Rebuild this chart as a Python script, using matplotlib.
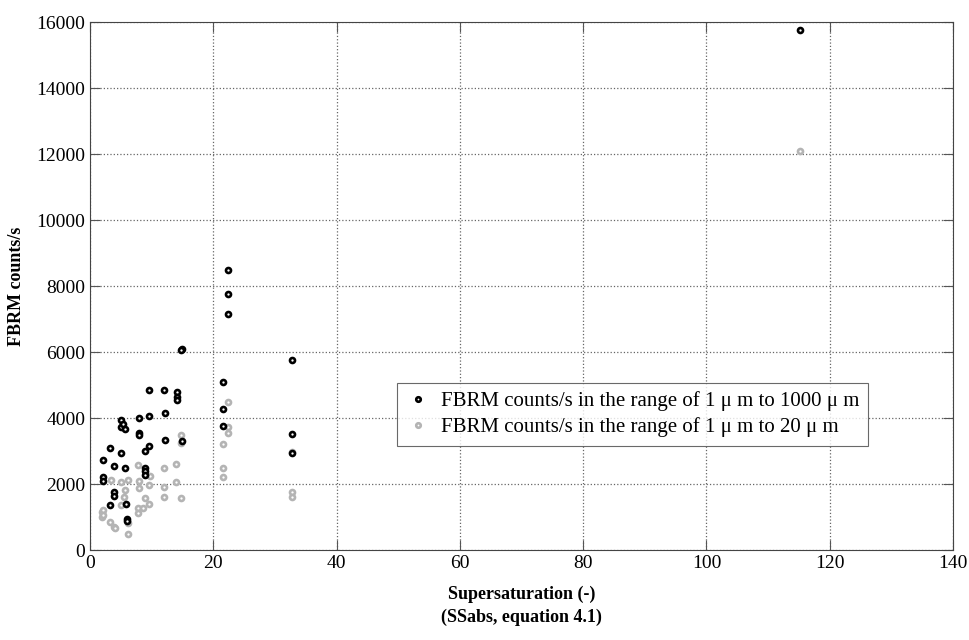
import matplotlib
matplotlib.use("Agg")
import matplotlib.pyplot as plt

plt.rcParams['font.family'] = ['Liberation Serif', 'DejaVu Serif']

# Series 1: counts in range 1 um to 1000 um (black)
ss_black = [2.1, 2.1, 2.1, 3.2, 3.2, 3.9, 3.9, 3.9, 5.1, 5.1, 5.1, 5.4, 5.6, 5.7, 5.9,
            6.0, 6.0, 7.9, 7.9, 7.9, 8.9, 8.9, 8.9, 8.9, 9.6, 9.6, 9.6, 12.0, 12.1, 12.1,
            14.1, 14.1, 14.1, 14.9, 14.8, 14.9, 21.6, 21.6, 21.6, 22.4, 22.4, 22.4,
            32.7, 32.7, 32.7, 115.1]
counts_black = [2730, 2210, 2080, 3085, 1360, 2550, 1750, 1630, 3940, 3740, 2935, 3820,
                3660, 2480, 1390, 950, 870, 3990, 3540, 3480, 3015, 2480, 2380, 2260,
                4850, 4060, 3160, 4850, 4150, 3340, 4800, 4650, 4560, 6100, 6060, 3290,
                5100, 4260, 3760, 8480, 7760, 7140, 5760, 3520, 2950, 15750]

# Series 2: counts in range 1 um to 20 um (grey)
ss_grey = [2.0, 2.0, 2.1, 2.1, 3.2, 3.35, 3.9, 4.05, 5.1, 5.1, 5.5, 5.6, 6.1, 6.1, 6.1,
           7.8, 7.9, 7.9, 7.8, 7.8, 8.9, 9.5, 9.5, 8.6, 9.7, 12.05, 12.05, 12.05, 13.9,
           13.9, 14.8, 14.8, 14.8, 21.6, 21.6, 21.6, 22.4, 22.4, 22.4, 32.7, 32.7, 32.7,
           115.1]
counts_grey = [1160, 1010, 1210, 1060, 860, 2120, 710, 660, 2070, 1360, 1620, 1820, 2120,
               810, 475, 2580, 2090, 1870, 1260, 1110, 1565, 1970, 1394, 1260, 2240, 2475,
               1920, 1615, 2606, 2070, 3485, 3230, 1565, 3200, 2500, 2220, 4495, 3740,
               3560, 2980, 1750, 1600, 12100]

fig = plt.figure(figsize=(9.7, 6.4), dpi=100)
ax = fig.add_axes([0.0928, 0.1406, 0.8897, 0.825])

ax.plot(ss_grey, counts_grey, 'o', ms=3.6, mfc='white', mec='#b4b4b4', mew=1.9,
        linestyle='none', label='FBRM counts/s in the range of 1 \u03bc m to 20 \u03bc m', zorder=3)
ax.plot(ss_black, counts_black, 'o', ms=3.6, mfc='white', mec='black', mew=1.9,
        linestyle='none', label='FBRM counts/s in the range of 1 \u03bc m to 1000 \u03bc m', zorder=4)

ax.set_xlim(0, 140)
ax.set_ylim(0, 16000)
ax.set_xticks(range(0, 141, 20))
ax.set_yticks(range(0, 16001, 2000))
ax.grid(True, linestyle=':', color='#666666', linewidth=0.9)
ax.tick_params(direction='in', length=7, top=True, right=True, labelsize=14, color='#555555')
for s in ax.spines.values():
    s.set_color('#444444')

ax.set_xlabel('Supersaturation (-)\n(SSabs, equation 4.1)', fontsize=13, fontweight='bold',
              labelpad=10, linespacing=1.45)
ax.set_ylabel('FBRM counts/s', fontsize=13, fontweight='bold', labelpad=8)

handles, labels = ax.get_legend_handles_labels()
leg = ax.legend(handles[::-1], labels[::-1], loc='upper left', bbox_to_anchor=(0.344, 0.336),
                fontsize=15, frameon=True, fancybox=False, edgecolor='#444444',
                handlelength=1.2, handletextpad=0.5, borderpad=0.4, labelspacing=0.3,
                markerscale=0.9)
leg.get_frame().set_linewidth(0.8)

fig.savefig('out.png', dpi=100)
